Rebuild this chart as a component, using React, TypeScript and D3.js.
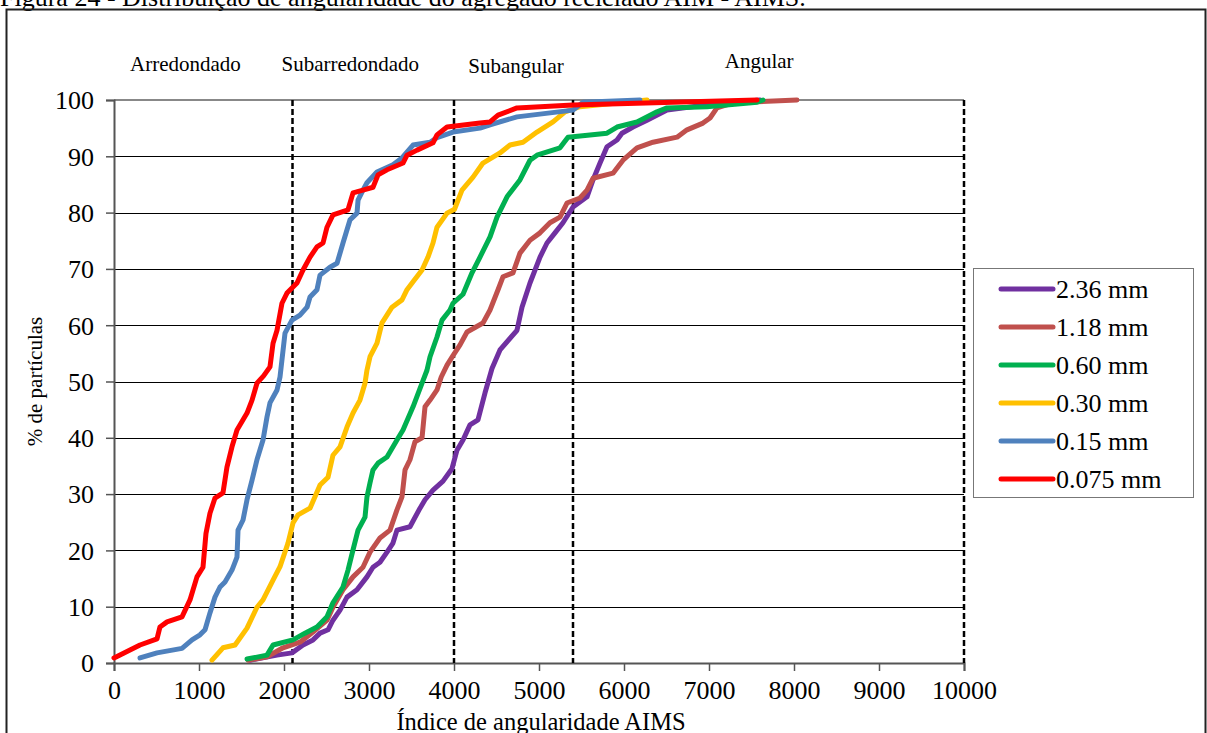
import React, { useEffect, useRef } from 'react';
import * as d3 from 'd3';

// cumulative distribution of AIMS angularity, [index, % of particles]
const s236: [number, number][] = [[1600,0.5],[1918,1.4],[2094,1.8],[2224,3.2],[2341,4.1],[2424,5.3],[2518,5.9],[2576,7.6],[2659,9.4],[2741,11.7],[2859,13],[2976,15.3],[3047,17],[3129,17.9],[3212,19.7],[3282,21.3],[3329,23.6],[3482,24.2],[3600,27.5],[3659,29],[3753,30.7],[3871,32.3],[3976,34.5],[4035,37.8],[4106,39.6],[4188,42.3],[4282,43.2],[4365,48],[4447,52.3],[4541,55.6],[4741,59.1],[4800,63.2],[4894,67.5],[5012,72.1],[5094,74.6],[5188,76.4],[5282,78.2],[5400,81],[5565,82.8],[5635,85.8],[5718,88.8],[5800,91.7],[5918,92.9],[5976,94.1],[6106,95.2],[6271,96.4],[6506,98.2],[7000,99.2],[7600,100]];
const s118: [number, number][] = [[1576,0.5],[1800,1.1],[1988,2.7],[2188,3.7],[2341,5.5],[2506,7.6],[2576,9.9],[2694,13],[2812,15.3],[2929,17],[3012,19.7],[3129,22.2],[3247,23.6],[3329,27.2],[3388,29.5],[3424,34.3],[3482,36.1],[3541,39.3],[3624,40],[3659,45.5],[3718,46.7],[3800,48.5],[3850,50.8],[3918,52.9],[3988,54.6],[4071,56.5],[4153,58.8],[4341,60.4],[4424,62.7],[4518,66.3],[4576,68.6],[4694,69.3],[4776,72.8],[4894,75.1],[5012,76.4],[5129,78.2],[5247,79.2],[5329,81.7],[5482,82.6],[5565,84],[5635,86.1],[5871,87],[5988,89.3],[6153,91.5],[6341,92.5],[6624,93.4],[6741,94.7],[6929,95.9],[7012,96.8],[7094,98.6],[7282,99.5],[8035,100]];
const s060: [number, number][] = [[1565,0.7],[1800,1.4],[1871,3.2],[2106,4.1],[2247,5.3],[2388,6.4],[2506,8.2],[2576,10.7],[2694,13.5],[2753,16.5],[2812,20.1],[2871,23.6],[2953,25.9],[2976,29.5],[3012,32],[3047,34.3],[3106,35.5],[3212,36.6],[3329,39.6],[3400,41.4],[3518,45.5],[3624,49.7],[3682,52],[3718,54.4],[3800,57.9],[3859,60.9],[3953,62.7],[3988,63.9],[4106,65.5],[4212,69.3],[4306,72.1],[4424,75.7],[4506,79.2],[4624,82.8],[4776,85.8],[4894,89.3],[4976,90.2],[5247,91.5],[5341,93.4],[5800,94.1],[5918,95.2],[6153,96.1],[6388,97.9],[6506,98.6],[6976,98.8],[7565,99.6],[7635,100]];
const s030: [number, number][] = [[1153,0.5],[1282,2.7],[1424,3.2],[1565,6.2],[1682,9.9],[1753,11.2],[1871,14.7],[1953,17.1],[2047,21.3],[2106,24.9],[2165,26.3],[2306,27.5],[2424,31.6],[2518,33],[2576,36.9],[2659,38.4],[2741,41.9],[2812,44.4],[2894,46.7],[2953,49.7],[2976,52],[3012,54.4],[3094,56.8],[3153,60.4],[3271,63.2],[3388,64.5],[3447,66.3],[3518,67.7],[3624,69.8],[3694,72.1],[3753,74.6],[3800,77.4],[3918,79.9],[4006,80.6],[4094,84],[4224,86.3],[4341,88.8],[4541,90.6],[4659,92],[4812,92.5],[4976,94.3],[5165,96.1],[5306,97.9],[5482,98.8],[6271,100]];
const s015: [number, number][] = [[306,0.9],[506,1.8],[800,2.6],[918,4.1],[1012,5],[1071,5.9],[1129,8.9],[1188,11.7],[1247,13.5],[1306,14.4],[1388,16.5],[1447,18.8],[1459,23.6],[1518,25.4],[1565,29],[1624,32.5],[1682,36.1],[1753,39.6],[1800,43.7],[1835,46.2],[1918,48.5],[1953,50.8],[2012,58.6],[2094,60.9],[2188,61.8],[2271,63.2],[2306,65],[2388,66.3],[2424,68.9],[2541,70.3],[2624,71],[2694,74.6],[2776,78.7],[2859,79.9],[2871,82.2],[2929,84],[2976,85.3],[3094,87.2],[3282,88.5],[3388,89.7],[3518,92],[3718,92.5],[3800,93.3],[3988,94.3],[4306,95],[4424,95.6],[4741,97],[5400,98.2],[5518,99.6],[6188,100]];
const s0075: [number, number][] = [[0,0.9],[306,3.2],[506,4.3],[541,6.4],[624,7.3],[800,8.2],[894,11.2],[976,15.3],[1047,17],[1082,23],[1129,26.6],[1188,29.3],[1282,30.2],[1329,34.8],[1388,38.4],[1447,41.4],[1565,44.4],[1624,46.7],[1682,49.7],[1760,51],[1835,52.6],[1871,56.8],[1918,59.1],[1976,63.9],[2035,65.7],[2153,67.5],[2224,69.8],[2306,72.1],[2388,73.9],[2459,74.6],[2506,77.4],[2576,79.6],[2753,80.5],[2812,83.5],[2929,84],[3047,84.5],[3106,86.7],[3212,87.6],[3400,88.8],[3447,90.2],[3565,91.1],[3753,92.4],[3800,93.8],[3918,95.2],[4306,95.9],[4424,96.1],[4518,97.3],[4741,98.6],[5400,99.1],[6576,99.6],[7565,100]];

const seriesNames = ['2.36 mm', '1.18 mm', '0.60 mm', '0.30 mm', '0.15 mm', '0.075 mm'];
const seriesData = [s236, s118, s060, s030, s015, s0075];
const seriesColors = ['#7030A0', '#C0504D', '#00B050', '#FFC000', '#4F81BD', '#FF0000'];

const xTicks = [0, 1000, 2000, 3000, 4000, 5000, 6000, 7000, 8000, 9000, 10000];
const yTicks = [0, 10, 20, 30, 40, 50, 60, 70, 80, 90, 100];
const limits = [2100, 4000, 5400, 10000];
const classes = [
  { label: 'Arredondado', x: 840, y: 105.1 },
  { label: 'Subarredondado', x: 2780, y: 105.1 },
  { label: 'Subangular', x: 4730, y: 104.8 },
  { label: 'Angular', x: 7590, y: 105.7 },
];

const W = 1207, H = 733;
const left = 114, right = 964, top = 100, bottom = 663;
const font = '"Liberation Serif", "Times New Roman", serif';

export default function App() {
  const ref = useRef<SVGSVGElement>(null);

  useEffect(() => {
    const svg = d3.select(ref.current);
    svg.selectAll('*').remove();

    const x = d3.scaleLinear().domain([0, 10000]).range([left, right]);
    const y = d3.scaleLinear().domain([0, 100]).range([bottom, top]);

    // caption (cut at the top edge)
    svg.append('text').attr('x', 0).attr('y', 6)
      .attr('font-family', font).attr('font-size', 26)
      .text('Figura 24 - Distribuição de angularidade do agregado reciclado AIM - AIMS.');

    // frame
    svg.append('rect').attr('x', 6.5).attr('y', 9.5).attr('width', 1199).attr('height', 740)
      .attr('fill', 'none').attr('stroke', '#222').attr('stroke-width', 2);

    // grid
    svg.append('g').selectAll('line').data(yTicks.filter(d => d > 0 && d < 100)).join('line')
      .attr('x1', left).attr('x2', right)
      .attr('y1', d => Math.round(y(d)) + 0.5).attr('y2', d => Math.round(y(d)) + 0.5)
      .attr('stroke', '#000').attr('stroke-width', 1);
    svg.append('line').attr('x1', left).attr('x2', right).attr('y1', y(100)).attr('y2', y(100))
      .attr('stroke', '#888').attr('stroke-width', 2);

    // axes
    const yAxis = d3.axisLeft(y).tickValues(yTicks).tickSize(8).tickPadding(12);
    const gy = svg.append('g').attr('transform', `translate(${left},0)`).call(yAxis);
    const xAxis = d3.axisBottom(x).tickValues(xTicks).tickSize(8).tickPadding(10)
      .tickFormat(d3.format('d'));
    const gx = svg.append('g').attr('transform', `translate(0,${bottom})`).call(xAxis);
    [gx, gy].forEach(g => {
      g.select('.domain').attr('stroke', '#555').attr('stroke-width', 2);
      g.selectAll('.tick line').attr('stroke', '#555').attr('stroke-width', 1.5);
      g.selectAll('.tick text').attr('font-family', font).attr('font-size', 26).attr('fill', '#000');
    });
    gy.selectAll('.tick text').attr('dy', '0.34em');
    gx.selectAll('.tick text').attr('dy', '0.7em');

    // class limits
    svg.append('g').selectAll('line').data(limits).join('line')
      .attr('x1', d => x(d)).attr('x2', d => x(d)).attr('y1', y(100)).attr('y2', y(0))
      .attr('stroke', '#000').attr('stroke-width', 2.5).attr('stroke-dasharray', '6,3');

    svg.append('g').selectAll('text').data(classes).join('text')
      .attr('x', d => x(d.x)).attr('y', d => y(d.y))
      .attr('text-anchor', 'middle').attr('font-family', font).attr('font-size', 21)
      .text(d => d.label);

    // series
    const line = d3.line<[number, number]>().x(d => x(d[0])).y(d => y(d[1]));
    svg.append('g').selectAll('path').data(seriesData).join('path')
      .attr('d', d => line(d))
      .attr('fill', 'none').attr('stroke', (d, i) => seriesColors[i])
      .attr('stroke-width', 5).attr('stroke-linejoin', 'round').attr('stroke-linecap', 'round');

    // axis titles
    svg.append('text').attr('x', (left + right) / 2 + 2).attr('y', 730).attr('text-anchor', 'middle')
      .attr('font-family', font).attr('font-size', 24.5).text('Índice de angularidade AIMS');
    svg.append('text').attr('transform', `translate(42,${(top + bottom) / 2}) rotate(-90)`)
      .attr('text-anchor', 'middle').attr('font-family', font).attr('font-size', 21)
      .text('% de partículas');

    // legend
    const lg = svg.append('g');
    lg.append('rect').attr('x', 973.5).attr('y', 268.5).attr('width', 220).attr('height', 229)
      .attr('fill', '#fff').attr('stroke', '#777').attr('stroke-width', 1);
    const items = lg.selectAll('g').data(seriesNames).join('g')
      .attr('transform', (d, i) => `translate(0,${289 + i * 38})`);
    items.append('line').attr('x1', 1001).attr('x2', 1053).attr('y1', 0).attr('y2', 0)
      .attr('stroke', (d, i) => seriesColors[i]).attr('stroke-width', 5).attr('stroke-linecap', 'round');
    items.append('text').attr('x', 1056).attr('y', 0).attr('dy', '0.34em')
      .attr('font-family', font).attr('font-size', 26).text(d => d);
  }, []);

  return (
    <svg ref={ref} width={W} height={H}
      style={{ position: 'absolute', left: 0, top: 0, background: '#fff' }} />
  );
}
